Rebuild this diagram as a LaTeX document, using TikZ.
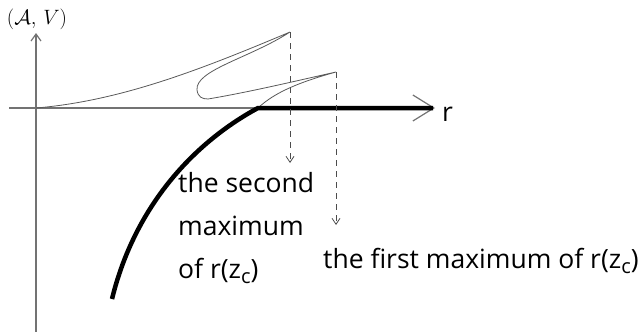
\documentclass[tikz,border=0pt]{standalone}
\usepackage{fontspec}
\setmainfont{Open Sans}
\usetikzlibrary{arrows.meta}

\newcommand{\subc}{\raisebox{-5pt}{\fontsize{20}{20}\selectfont c}}

\begin{document}
\begin{tikzpicture}[x=1pt,y=-1pt,
	axis/.style={draw=black!55,line width=1.2pt},
	branch/.style={draw=black!65,line width=0.8pt},
	stable/.style={draw=black,line width=4.5pt},
	dropline/.style={draw=black!70,line width=0.8pt,dash pattern=on 6pt off 5pt,
		-{Straight Barb[length=6pt,width=8pt]}},
	lbl/.style={inner sep=0pt,font=\fontsize{26.5}{43}\selectfont}]
	
	\useasboundingbox (0,0) rectangle (641,332);
	
	% axes
	\coordinate (O) at (36,108);
	\coordinate (xl) at (9,108);
	\coordinate (xr) at (435,108);
	\coordinate (yb) at (36,332);
	\coordinate (yt) at (36,33);
	\draw[axis,-{Straight Barb[length=21pt,width=26pt]}] (xl) -- (xr);
	\draw[axis,-{Straight Barb[length=7pt,width=10pt]}] (yb) -- (yt);
	\node[inner sep=0pt,font=\fontsize{20}{24}\selectfont] (yname) at (37,19) {$(\mathcal{A},\,V)$};
	\node[lbl,anchor=base west] (rname) at (442,121) {r};
	
	% cusps and end points of the branches
	\coordinate (cuspA) at (290,32);
	\coordinate (cuspB) at (336,72);
	\coordinate (kink) at (258,108);
	\coordinate (tail) at (112,299);
	\coordinate (xend) at (433,108);
	
	% thin branches (swallowtail)
	\draw[branch] (O) .. controls (120,101) and (200,70) .. (cuspA)
		.. controls (250,58) and (195,70) .. (197,90)
		.. controls (198,97) and (202,99) .. (208,99)
		.. controls (250,92) and (300,80) .. (cuspB)
		.. controls (300,82) and (275,92) .. (kink);
	
	% thick branch
	\draw[stable] (xend) -- (kink) .. controls (195,142) and (135,205) .. (tail);
	
	% labels
	\node[lbl,anchor=north west,align=left] (second) at (178,172) {the second\\maximum\\of r(z\subc)};
	\node[lbl,anchor=base west] (first) at (323,268) {the first maximum of r(z\subc)};
	
	% drop lines from the two maxima
	\coordinate (endA) at (290,163);
	\coordinate (endB) at (336,225);
	\foreach \c/\e in {cuspA/endA,cuspB/endB}{
		\draw[dropline] (\c) -- (\e);
	}
	
\end{tikzpicture}
\end{document}
